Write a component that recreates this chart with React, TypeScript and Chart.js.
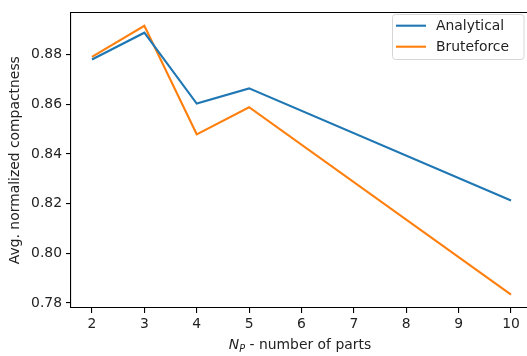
import React, { useEffect, useRef } from "react";
import { Chart, registerables } from "chart.js";

Chart.register(...registerables);

const xValues = [2, 3, 4, 5, 10];
const analytical = [0.878, 0.8888, 0.8603, 0.8664, 0.8213];
const bruteforce = [0.8791, 0.8916, 0.8479, 0.8588, 0.7834];
const xTicks = [2, 3, 4, 5, 6, 7, 8, 9, 10];
const yTicks = [0.78, 0.8, 0.82, 0.84, 0.86, 0.88];
const seriesNames = ["Analytical", "Bruteforce"];
const yTitle = "Avg. normalized compactness";
const xTitleRest = " - number of parts";

const BLUE = "#1f77b4";
const ORANGE = "#ff7f0e";
const FONT = "'DejaVu Sans', sans-serif";
const FS = 13.9;

const decorPlugin = {
  id: "decor",
  afterDraw(chart: any) {
    const ctx = chart.ctx as CanvasRenderingContext2D;
    const a = chart.chartArea;
    ctx.save();
    // top spine
    ctx.strokeStyle = "#000";
    ctx.lineWidth = 1.1;
    ctx.beginPath();
    ctx.moveTo(a.left, Math.round(a.top) + 0.5);
    ctx.lineTo(a.right, Math.round(a.top) + 0.5);
    ctx.stroke();

    // legend
    const lx = 392.5, ly = 14.5, lw = 131.5, lh = 45, r = 3;
    ctx.beginPath();
    ctx.moveTo(lx + r, ly);
    ctx.lineTo(lx + lw - r, ly);
    ctx.arcTo(lx + lw, ly, lx + lw, ly + r, r);
    ctx.lineTo(lx + lw, ly + lh - r);
    ctx.arcTo(lx + lw, ly + lh, lx + lw - r, ly + lh, r);
    ctx.lineTo(lx + r, ly + lh);
    ctx.arcTo(lx, ly + lh, lx, ly + lh - r, r);
    ctx.lineTo(lx, ly + r);
    ctx.arcTo(lx, ly, lx + r, ly, r);
    ctx.closePath();
    ctx.fillStyle = "rgba(255,255,255,0.8)";
    ctx.fill();
    ctx.strokeStyle = "#d6d6d6";
    ctx.lineWidth = 1;
    ctx.stroke();

    const colors = [BLUE, ORANGE];
    const rows = [25.7, 46.7];
    ctx.font = `${FS}px ${FONT}`;
    ctx.textBaseline = "middle";
    ctx.textAlign = "left";
    seriesNames.forEach((name, i) => {
      ctx.strokeStyle = colors[i];
      ctx.lineWidth = 2.1;
      ctx.beginPath();
      ctx.moveTo(396, rows[i]);
      ctx.lineTo(426, rows[i]);
      ctx.stroke();
      ctx.fillStyle = "#222";
      ctx.fillText(name, 436, rows[i] + 0.8);
    });

    // y title
    ctx.save();
    ctx.translate(15, (a.top + a.bottom) / 2);
    ctx.rotate(-Math.PI / 2);
    ctx.textAlign = "center";
    ctx.textBaseline = "middle";
    ctx.fillStyle = "#222";
    ctx.font = `${FS}px ${FONT}`;
    ctx.fillText(yTitle, 0, 0);
    ctx.restore();

    // x title: italic N, subscript P, rest
    const baseY = 349;
    ctx.textBaseline = "alphabetic";
    ctx.textAlign = "left";
    const fN = `oblique ${FS}px ${FONT}`;
    const fP = `oblique ${FS * 0.7}px ${FONT}`;
    const fR = `${FS}px ${FONT}`;
    ctx.font = fN;
    const wN = ctx.measureText("N").width;
    ctx.font = fP;
    const wP = ctx.measureText("P").width;
    ctx.font = fR;
    const wR = ctx.measureText(xTitleRest).width;
    const total = wN + wP + wR;
    let x = 300 - total / 2;
    ctx.fillStyle = "#222";
    ctx.font = fN;
    ctx.fillText("N", x, baseY);
    x += wN;
    ctx.font = fP;
    ctx.fillText("P", x, baseY + 2.5);
    x += wP;
    ctx.font = fR;
    ctx.fillText(xTitleRest, x, baseY);
    ctx.restore();
  },
};

export default function App() {
  const ref = useRef<HTMLCanvasElement | null>(null);
  useEffect(() => {
    if (!ref.current) return;
    const chart = new Chart(ref.current, {
      type: "line",
      data: {
        datasets: [
          {
            label: seriesNames[0],
            data: xValues.map((x, i) => ({ x, y: analytical[i] })),
            borderColor: BLUE,
            borderWidth: 2.1,
            pointRadius: 0,
            tension: 0,
            fill: false,
          },
          {
            label: seriesNames[1],
            data: xValues.map((x, i) => ({ x, y: bruteforce[i] })),
            borderColor: ORANGE,
            borderWidth: 2.1,
            pointRadius: 0,
            tension: 0,
            fill: false,
          },
        ],
      },
      options: {
        responsive: false,
        animation: false,
        devicePixelRatio: 1,
        layout: { padding: { left: 0, top: 7, right: 8, bottom: 0 } },
        plugins: {
          legend: { display: false },
          tooltip: { enabled: false },
        },
        scales: {
          x: {
            type: "linear",
            min: 1.6,
            max: 10.4,
            afterBuildTicks: (s: any) => {
              s.ticks = xTicks.map((v) => ({ value: v }));
            },
            afterFit: (s: any) => {
              s.height = 48;
            },
            grid: {
              display: true,
              drawOnChartArea: false,
              drawTicks: true,
              tickLength: 5,
              color: "#000",
              lineWidth: 1.1,
            },
            border: { display: true, color: "#000", width: 1.1 },
            ticks: {
              font: { family: FONT, size: FS },
              color: "#222",
              padding: 3,
              maxRotation: 0,
              autoSkip: false,
              callback: (v: any) => String(v),
            },
          },
          y: {
            type: "linear",
            min: 0.778,
            max: 0.897,
            afterBuildTicks: (s: any) => {
              s.ticks = yTicks.map((v) => ({ value: v }));
            },
            afterFit: (s: any) => {
              s.width = 71;
            },
            grid: {
              display: true,
              drawOnChartArea: false,
              drawTicks: true,
              tickLength: 5,
              color: "#000",
              lineWidth: 1.1,
            },
            border: { display: true, color: "#000", width: 1.1 },
            ticks: {
              font: { family: FONT, size: FS },
              color: "#222",
              padding: 4,
              autoSkip: false,
              callback: (v: any) => Number(v).toFixed(2),
            },
          },
        },
      },
      plugins: [decorPlugin],
    });
    return () => chart.destroy();
  }, []);
  return (
    <div
      style={{
        position: "fixed",
        left: 0,
        top: 0,
        width: 527,
        height: 356,
        overflow: "hidden",
        background: "#fff",
      }}
    >
      <canvas ref={ref} width={540} height={356} style={{ width: 540, height: 356, display: "block" }} />
    </div>
  );
}
